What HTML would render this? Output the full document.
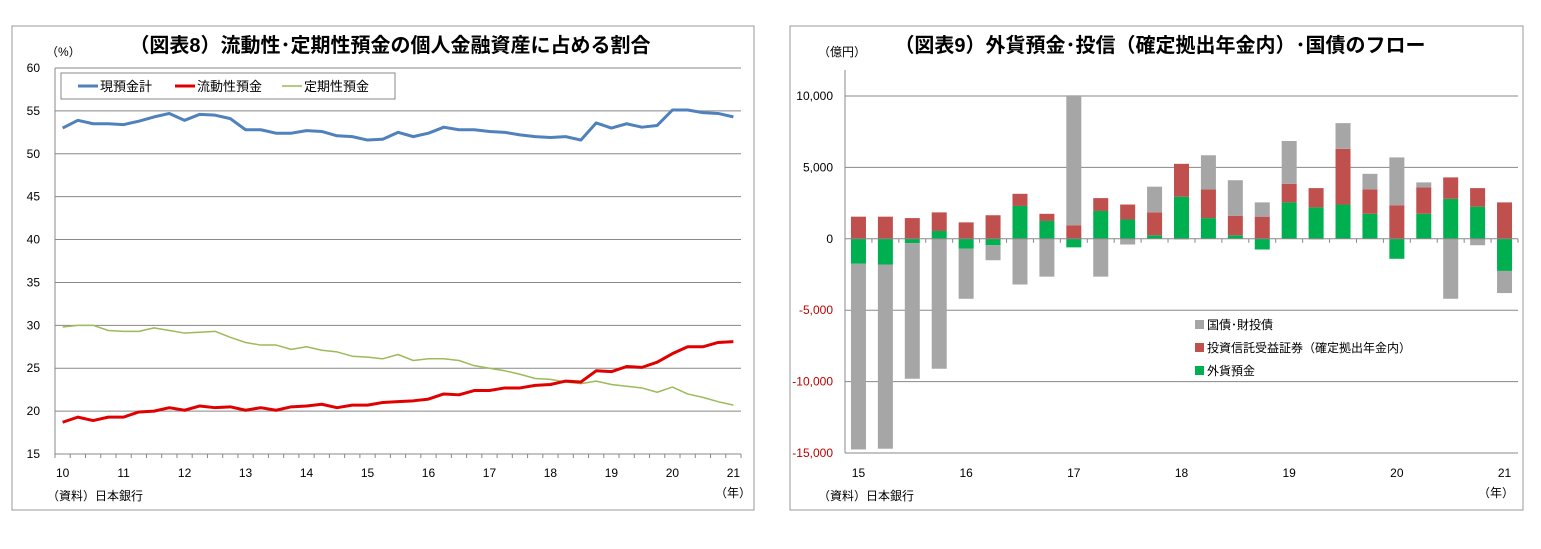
<!DOCTYPE html>
<html><head><meta charset="utf-8">
<style>
body{margin:0;background:#fff;width:1541px;height:544px;overflow:hidden;font-family:"Liberation Sans","Noto Sans CJK JP",sans-serif;}
svg text{font-family:"Liberation Sans","Noto Sans CJK JP",sans-serif;}
</style></head><body>
<svg id="c" width="1541" height="544" xmlns="http://www.w3.org/2000/svg">
<rect x="12" y="26" width="742" height="484" fill="#fff" stroke="#999"/>
<rect x="790" y="26" width="733" height="484" fill="#fff" stroke="#999"/>
<text x="390" y="52" font-size="20" font-weight="bold" text-anchor="middle">（図表8）流動性･定期性預金の個人金融資産に占める割合</text>
<text x="46" y="56" font-size="12">（%）</text>
<text x="47" y="500" font-size="12">（資料）日本銀行</text>
<text x="715" y="497" font-size="12">（年）</text>
<text x="1160" y="52" font-size="20" font-weight="bold" text-anchor="middle">（図表9）外貨預金･投信（確定拠出年金内）･国債のフロー</text>
<text x="818" y="56" font-size="12">（億円）</text>
<text x="818" y="500" font-size="12">（資料）日本銀行</text>
<text x="1478" y="497" font-size="12">（年）</text>
<g id="L"></g><g id="R"></g>
</svg>
<script>
const lineCats = 45;
const xLabels = ["10","11","12","13","14","15","16","17","18","19","20","21"];
const yTicksL = [15,20,25,30,35,40,45,50,55,60];
const totalDeposits = [53.0,53.9,53.5,53.5,53.4,53.8,54.3,54.7,53.9,54.6,54.5,54.1,52.8,52.8,52.4,52.4,52.7,52.6,52.1,52.0,51.6,51.7,52.5,52.0,52.4,53.1,52.8,52.8,52.6,52.5,52.2,52.0,51.9,52.0,51.6,53.6,53.0,53.5,53.1,53.3,55.1,55.1,54.8,54.7,54.3];
const liquidDeposits = [18.7,19.3,18.9,19.3,19.3,19.9,20.0,20.4,20.1,20.6,20.4,20.5,20.1,20.4,20.1,20.5,20.6,20.8,20.4,20.7,20.7,21.0,21.1,21.2,21.4,22.0,21.9,22.4,22.4,22.7,22.7,23.0,23.1,23.5,23.4,24.7,24.6,25.2,25.1,25.7,26.7,27.5,27.5,28.0,28.1];
const timeDeposits = [29.8,30.0,30.0,29.4,29.3,29.3,29.7,29.4,29.1,29.2,29.3,28.6,28.0,27.7,27.7,27.2,27.5,27.1,26.9,26.4,26.3,26.1,26.6,25.9,26.1,26.1,25.9,25.3,25.0,24.7,24.3,23.8,23.7,23.4,23.2,23.5,23.1,22.9,22.7,22.2,22.8,22.0,21.6,21.1,20.7];

const barCats = ["15","","","","16","","","","17","","","","18","","","","19","","","","20","","","","21"];
const yTicksR = [-15000,-10000,-5000,0,5000,10000];
const fxDeposits = [-1750,-1800,-300,550,-700,-450,2300,1250,-600,1950,1350,250,2950,1450,250,-750,2550,2200,2400,1750,-1400,1750,2800,2250,-2250];
const investTrusts = [1550,1550,1450,1300,1150,1650,850,500,950,900,1050,1600,2300,2000,1350,1550,1300,1350,3900,1700,2350,1850,1500,1300,2550];
const jgbs = [-13000,-12900,-9500,-9100,-3500,-1050,-3200,-2650,9100,-2650,-400,1800,-50,2400,2500,1000,3000,-50,1800,1100,3350,350,-4200,-450,-1550];

const NS="http://www.w3.org/2000/svg";
function mk(p,tag,a){const e=document.createElementNS(NS,tag);for(const k in a)e.setAttribute(k,a[k]);p.appendChild(e);return e;}

// left chart
const L=document.getElementById('L');
const lx0=55,lx1=741,ly60=68,ly15=454;
const lxs=i=>lx0+(i+0.5)*(lx1-lx0)/lineCats;
const lys=v=>ly15+(v-15)*(ly60-ly15)/45;
yTicksL.forEach(t=>{
 const g=mk(L,'line',{x1:lx0,x2:lx1,y1:lys(t),y2:lys(t),stroke:'#888','stroke-width':1});
 
 
 const tx=mk(L,'text',{x:40,y:lys(t)+4,'font-size':12,'text-anchor':'end'});tx.textContent=t;
 
 
});
mk(L,'line',{x1:lx0,x2:lx0,y1:ly60,y2:ly15,stroke:'#888'});
for(let i=0;i<=lineCats;i++){const x=lx0+i*(lx1-lx0)/lineCats;mk(L,'line',{x1:x,x2:x,y1:ly15,y2:ly15+4,stroke:'#888'});}
xLabels.forEach((s,k)=>{const tx=mk(L,'text',{x:lxs(k*4),y:477,'font-size':12,'text-anchor':'middle'});tx.textContent=s;
 
 });
function line(arr,col,w,name){
 const p=mk(L,'polyline',{points:arr.map((v,i)=>lxs(i)+','+lys(v)).join(' '),fill:'none',stroke:col,'stroke-width':w,'stroke-linejoin':'round'});
 
 
}
line(timeDeposits,'#9bbb59',1.5,'time-deposits-line');
line(liquidDeposits,'#e00000',3,'liquid-deposits-line');
line(totalDeposits,'#4f81bd',3,'total-deposits-line');
const lg=mk(L,'rect',{x:61,y:73,width:334,height:26,fill:'#fff',stroke:'#888'});


[['#4f81bd','現預金計',78],['#e00000','流動性預金',175],['#9bbb59','定期性預金',282]].forEach(([c,t,x],k)=>{
 mk(L,'line',{x1:x,x2:x+20,y1:86,y2:86,stroke:c,'stroke-width':k==2?1.5:3});
 const tx=mk(L,'text',{x:x+22,y:91,'font-size':13});tx.textContent=t;
 
 
});

// right chart
const R=document.getElementById('R');
const rx0=845,rx1=1518,ryTop=96,ryBot=453;
const n=barCats.length,bw=(rx1-rx0)/n;
const rxs=i=>rx0+(i+0.5)*bw;
const rys=v=>ryBot+(v+15000)*(ryTop-ryBot)/25000;
yTicksR.forEach(t=>{
 if(t!==0){const g=mk(R,'line',{x1:rx0,x2:rx1,y1:rys(t),y2:rys(t),stroke:'#888'});
 
 }
 const tx=mk(R,'text',{x:833,y:rys(t)+4,'font-size':12,'text-anchor':'end',fill:t<0?'#c00000':'#000'});
 tx.textContent=t.toLocaleString('en-US');
 
 
});
mk(R,'line',{x1:rx0,x2:rx0,y1:70,y2:ryBot,stroke:'#888'});
mk(R,'line',{x1:rx0,x2:rx1,y1:ryBot,y2:ryBot,stroke:'#888'});
barCats.forEach((s,i)=>{if(s){const tx=mk(R,'text',{x:rxs(i),y:477,'font-size':12,'text-anchor':'middle'});tx.textContent=s;
 
 }});
const series=[[fxDeposits,'#00b050','fx-deposit-bar'],[investTrusts,'#c0504d','invest-trust-bar'],[jgbs,'#a6a6a6','jgb-bar']];
for(let i=0;i<n;i++){
 let pos=0,neg=0;
 series.forEach(([arr,col,name])=>{
  const v=arr[i];let a,b;
  if(v>=0){a=pos;b=pos+v;pos=b;}else{a=neg;b=neg+v;neg=b;}
  const y1=rys(Math.max(a,b)),y2=rys(Math.min(a,b));
  const r=mk(R,'rect',{x:rxs(i)-7.5,y:y1,width:15,height:Math.max(0,y2-y1),fill:col});
  
  
 });
}
mk(R,'line',{x1:rx0,x2:rx1,y1:rys(0),y2:rys(0),stroke:'#888'});
for(let i=0;i<=n;i++){const x=rx0+i*bw;mk(R,'line',{x1:x,x2:x,y1:rys(0),y2:rys(0)+4,stroke:'#888'});}
[['#a6a6a6','国債･財投債',325],['#c0504d','投資信託受益証券（確定拠出年金内）',348],['#00b050','外貨預金',371]].forEach(([c,t,y])=>{
 mk(R,'rect',{x:1195,y:y-5,width:9,height:9,fill:c});
 const tx=mk(R,'text',{x:1207,y:y+4,'font-size':12});tx.textContent=t;
 
 
});
</script>
</body></html>
